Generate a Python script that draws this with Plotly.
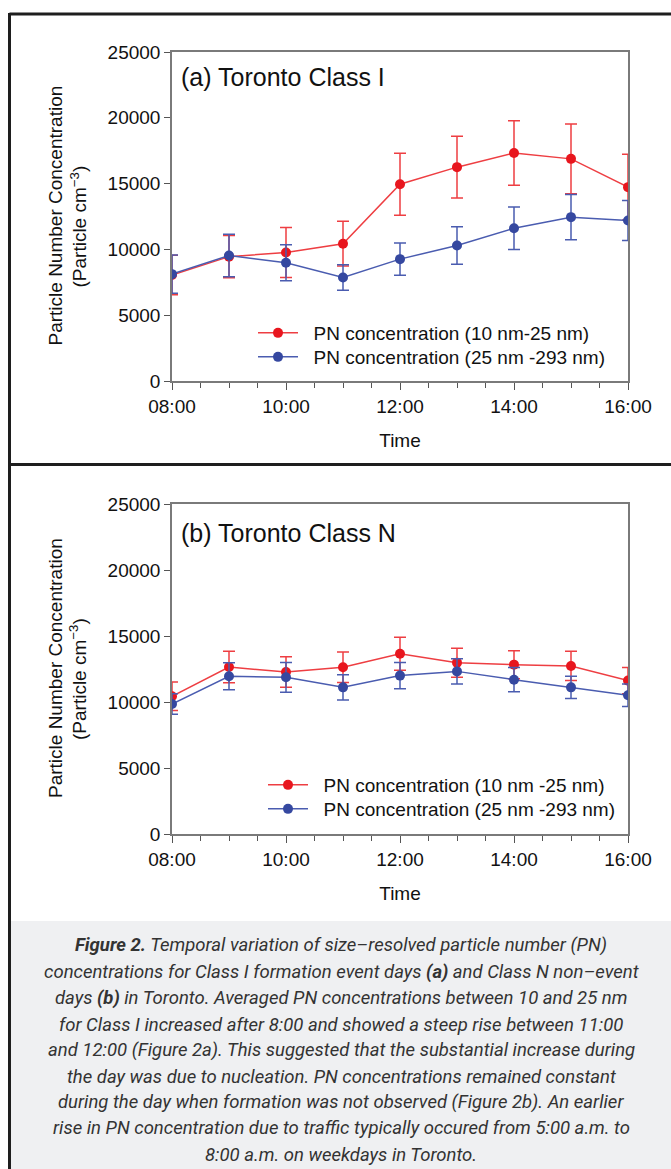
import plotly.graph_objects as go

# ---------------- data ----------------
hours = [8, 9, 10, 11, 12, 13, 14, 15, 16]
tick_hours = [8, 10, 12, 14, 16]
tick_labels = ["08:00", "10:00", "12:00", "14:00", "16:00"]

# (a) Toronto Class I
a_small = [8050, 9450, 9770, 10430, 14950, 16250, 17330, 16880, 14730]
a_small_err = [1500, 1600, 1900, 1700, 2350, 2350, 2450, 2650, 2500]
a_large = [8120, 9540, 8980, 7870, 9260, 10300, 11610, 12450, 12200]
a_large_err = [1450, 1620, 1370, 970, 1230, 1430, 1620, 1720, 1520]

# (b) Toronto Class N
b_small = [10430, 12650, 12270, 12630, 13660, 12980, 12830, 12730, 11620]
b_small_err = [1080, 1200, 1160, 1150, 1250, 1100, 1060, 1110, 1000]
b_large = [9850, 11950, 11870, 11110, 12000, 12320, 11690, 11110, 10510]
b_large_err = [780, 1030, 1130, 960, 1000, 960, 920, 850, 850]

names_a = ["PN concentration (10 nm-25 nm)", "PN concentration (25 nm -293 nm)"]
names_b = ["PN concentration (10 nm -25 nm)", "PN concentration (25 nm -293 nm)"]
panel_titles = ["(a) Toronto Class I", "(b) Toronto Class N"]

caption_lines = [
    "<b>Figure 2.</b> Temporal variation of size–resolved particle number (PN)",
    "concentrations for Class I formation event days <b>(a)</b> and Class N non–event",
    "days <b>(b)</b> in Toronto. Averaged PN concentrations between 10 and 25 nm",
    "for Class I increased after 8:00 and showed a steep rise between 11:00",
    "and 12:00 (Figure 2a). This suggested that the substantial increase during",
    "the day was due to nucleation. PN concentrations remained constant",
    "during the day when formation was not observed (Figure 2b). An earlier",
    "rise in PN concentration due to traffic typically occured from 5:00 a.m. to",
    "8:00 a.m. on weekdays in Toronto.",
]

# ---------------- styling ----------------
W, H = 671, 1169
FONT = "Liberation Sans, Arial, sans-serif"
RED_M, RED_L = "#e8161e", "#ee3e42"
BLUE_M, BLUE_L = "#3548a0", "#4a5cb0"
NB = "\u00a0\u00a0"


def px(x):
    return x / W


def py(y):
    return 1 - y / H


fig = go.Figure()


def add_series(x, y, err, name, mcol, lcol, xa, ya, legend):
    fig.add_trace(go.Scatter(
        x=x, y=y, name=NB + name, mode="lines+markers",
        xaxis=xa, yaxis=ya, legend=legend,
        line=dict(color=lcol, width=1.5),
        marker=dict(color=mcol, size=10),
        error_y=dict(type="data", array=err, visible=True,
                     color=lcol, thickness=1.5, width=6),
    ))


add_series(hours, a_small, a_small_err, names_a[0], RED_M, RED_L, "x", "y", "legend")
add_series(hours, a_large, a_large_err, names_a[1], BLUE_M, BLUE_L, "x", "y", "legend2")
add_series(hours, b_small, b_small_err, names_b[0], RED_M, RED_L, "x2", "y2", "legend3")
add_series(hours, b_large, b_large_err, names_b[1], BLUE_M, BLUE_L, "x2", "y2", "legend4")

xdom = [px(172), px(628)]
ydom_a = [py(381), py(52)]
ydom_b = [py(834), py(504)]

xaxis_common = dict(
    range=[8, 16], tickvals=tick_hours, ticktext=tick_labels,
    showline=True, linecolor="#7a7a7a", linewidth=1.5, mirror=True,
    ticks="outside", ticklen=7, tickcolor="#555", tickwidth=1,
    minor=dict(dtick=0.5, tick0=8, ticks="outside", ticklen=5, tickcolor="#555"),
    showgrid=False, zeroline=False, automargin=False,
    tickfont=dict(family=FONT, size=19, color="#111"),
    title=dict(text="Time", font=dict(family=FONT, size=19, color="#111"), standoff=18),
)
yaxis_common = dict(
    range=[0, 25000], dtick=5000, tickformat="d",
    showline=True, linecolor="#7a7a7a", linewidth=1.5, mirror=True,
    ticks="outside", ticklen=6, tickcolor="#555", tickwidth=1,
    showgrid=False, zeroline=False, automargin=False,
    tickfont=dict(family=FONT, size=19, color="#111"),
)


def leg(xl, yc):
    return dict(x=px(xl), y=py(yc), xanchor="left", yanchor="middle",
                bgcolor="rgba(0,0,0,0)", borderwidth=0,
                font=dict(family=FONT, size=19, color="#111"),
                tracegroupgap=0, itemwidth=40)


fig.update_layout(
    width=W, height=H,
    margin=dict(l=0, r=0, t=0, b=0),
    paper_bgcolor="white", plot_bgcolor="white",
    font=dict(family=FONT, color="#111"),
    xaxis=dict(domain=xdom, anchor="y", **xaxis_common),
    yaxis=dict(domain=ydom_a, anchor="x", **yaxis_common),
    xaxis2=dict(domain=xdom, anchor="y2", **xaxis_common),
    yaxis2=dict(domain=ydom_b, anchor="x2", **yaxis_common),
    legend=leg(253, 333),
    legend2=leg(253, 357),
    legend3=leg(263, 785),
    legend4=leg(263, 809),
    showlegend=True,
)

# frame and caption background
shapes = [
    dict(type="rect", xref="paper", yref="paper", x0=px(9), x1=1.02, y0=py(1175), y1=py(921),
         fillcolor="#eff0f2", line=dict(width=0), layer="below"),
    dict(type="line", xref="paper", yref="paper", x0=px(9.5), x1=1.02, y0=py(14), y1=py(14),
         line=dict(color="#1e1e1e", width=3)),
    dict(type="line", xref="paper", yref="paper", x0=px(9.5), x1=1.02, y0=py(464.5), y1=py(464.5),
         line=dict(color="#1e1e1e", width=3)),
    dict(type="line", xref="paper", yref="paper", x0=px(9.5), x1=px(9.5), y0=py(13), y1=py(1175),
         line=dict(color="#1e1e1e", width=3)),
]
fig.update_layout(shapes=shapes)

annotations = []
# panel labels
for title, yc in zip(panel_titles, [77, 533]):
    annotations.append(dict(text=title, xref="paper", yref="paper", x=px(179), y=py(yc),
                            xanchor="left", yanchor="middle", showarrow=False,
                            font=dict(family=FONT, size=25, color="#111")))
# y-axis titles (two lines each)
for yc in [(52 + 381) / 2, (504 + 834) / 2]:
    annotations.append(dict(text="Particle Number Concentration", xref="paper", yref="paper",
                            x=px(55), y=py(yc - 1), xanchor="center", yanchor="middle",
                            textangle=-90, showarrow=False,
                            font=dict(family=FONT, size=19, color="#111")))
    annotations.append(dict(text="(Particle cm<sup>−3</sup>)", xref="paper", yref="paper",
                            x=px(78), y=py(yc + 10), xanchor="center", yanchor="middle",
                            textangle=-90, showarrow=False,
                            font=dict(family=FONT, size=19, color="#111")))
# caption
cap_y = [945, 972, 998, 1025, 1050, 1077, 1102, 1128, 1155]
for line, yc in zip(caption_lines, cap_y):
    annotations.append(dict(text="<i>" + line + "</i>", xref="paper", yref="paper",
                            x=px(341), y=py(yc), xanchor="center", yanchor="middle",
                            showarrow=False,
                            font=dict(family="Roboto, Lato, sans-serif", size=18.5, color="#333")))
fig.update_layout(annotations=annotations)

fig.write_html("out.html")
